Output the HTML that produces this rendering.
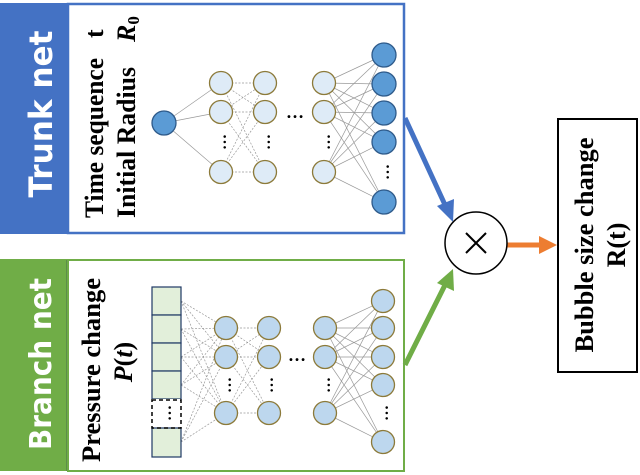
<!DOCTYPE html>
<html><head><meta charset="utf-8"><style>
html,body{margin:0;padding:0;background:#fff;width:640px;height:475px;overflow:hidden}
svg{display:block}
</style></head><body>
<svg id="s" width="640" height="475" viewBox="0 0 640 475" xmlns="http://www.w3.org/2000/svg">
<!-- Trunk -->
<rect x="0" y="3" width="69" height="231" fill="#4472c4"/>
<rect x="68" y="4" width="336" height="229" fill="#fff" stroke="#4472c4" stroke-width="2.5"/>
<text transform="translate(52,114) rotate(-90)" text-anchor="middle" textLength="167" lengthAdjust="spacingAndGlyphs" font-family="'DejaVu Sans','Liberation Sans',sans-serif" font-weight="bold" font-size="32" fill="#fff">Trunk net</text>
<text transform="translate(103,218) rotate(-90)" textLength="160" lengthAdjust="spacingAndGlyphs" font-family="'Liberation Serif',serif" font-weight="bold" font-size="26">Time sequence</text>
<text transform="translate(103,38) rotate(-90)" font-family="'Liberation Serif',serif" font-weight="bold" font-size="26">t</text>
<text transform="translate(135,218) rotate(-90)" textLength="151" lengthAdjust="spacingAndGlyphs" font-family="'Liberation Serif',serif" font-weight="bold" font-size="26">Initial Radius</text>
<text transform="translate(135,42) rotate(-90)" font-family="'Liberation Serif',serif" font-weight="bold" font-style="italic" font-size="26">R<tspan font-size="17" dy="4" font-style="normal">0</tspan></text>
<!-- Branch -->
<rect x="0" y="259" width="68" height="212" fill="#70ad47"/>
<line x1="67.5" y1="260" x2="67.5" y2="471" stroke="#1f3050" stroke-width="1.5"/>
<rect x="68" y="260" width="336" height="211" fill="#fff" stroke="#70ad47" stroke-width="2"/>
<text transform="translate(51,364) rotate(-90)" text-anchor="middle" textLength="172" lengthAdjust="spacingAndGlyphs" font-family="'DejaVu Sans','Liberation Sans',sans-serif" font-weight="bold" font-size="30" fill="#fff">Branch net</text>
<text transform="translate(100,462) rotate(-90)" textLength="184" lengthAdjust="spacingAndGlyphs" font-family="'Liberation Serif',serif" font-weight="bold" font-size="26">Pressure change</text>
<text transform="translate(132,362) rotate(-90)" text-anchor="middle" font-family="'Liberation Serif',serif" font-weight="bold" font-size="26"><tspan font-style="italic">P</tspan>(<tspan font-style="italic">t</tspan>)</text>
<g id="lines" stroke="#999" stroke-width="0.7" fill="none"></g>
<g id="nodes"></g>
<!-- input column -->
<g stroke="#1f3864" stroke-width="1.2" fill="#e2efda">
<rect x="152" y="287" width="29" height="28"/>
<rect x="152" y="315" width="29" height="28"/>
<rect x="152" y="343" width="29" height="28"/>
<rect x="152" y="371" width="29" height="28"/>
<rect x="152" y="399" width="29" height="29" fill="#fff" stroke="none"/>
<rect x="152" y="428" width="29" height="29"/>
</g>
<rect x="152" y="400" width="29" height="28" fill="none" stroke="#000" stroke-width="1.5" stroke-dasharray="4,3"/>
<!-- dots -->
<g font-family="'Liberation Serif',serif" font-weight="bold" font-size="16" text-anchor="middle">
<text transform="translate(171,413) rotate(-90)">…</text>
<text transform="translate(226,142) rotate(-90)">…</text>
<text transform="translate(270,142) rotate(-90)">…</text>
<text transform="translate(330,142) rotate(-90)">…</text>
<text transform="translate(389,172) rotate(-90)">…</text>
<text transform="translate(231,385) rotate(-90)">…</text>
<text transform="translate(273,385) rotate(-90)">…</text>
<text transform="translate(330,385) rotate(-90)">…</text>
<text transform="translate(388,413) rotate(-90)">…</text>
<text x="295" y="118" font-size="18">…</text>
<text x="297" y="361" font-size="18">…</text>
</g>
<!-- arrows -->
<line x1="405" y1="118" x2="446" y2="207" stroke="#4472c4" stroke-width="5"/>
<polygon points="453,222 437,206 454,199" fill="#4472c4"/>
<line x1="405" y1="365" x2="445" y2="285" stroke="#70ad47" stroke-width="5"/>
<polygon points="453,269 437,283 454,291" fill="#70ad47"/>
<line x1="507" y1="245" x2="540" y2="245" stroke="#ed7d31" stroke-width="5"/>
<polygon points="557,245 539,236 539,254" fill="#ed7d31"/>
<circle cx="476" cy="243" r="31" fill="#fff" stroke="#000" stroke-width="1.5"/>
<path d="M466 233 L486 253 M486 233 L466 253" stroke="#000" stroke-width="2"/>
<rect x="558" y="119" width="79" height="253" fill="#fff" stroke="#000" stroke-width="2"/>
<text transform="translate(593,245) rotate(-90)" text-anchor="middle" textLength="215" lengthAdjust="spacingAndGlyphs" font-family="'Liberation Serif',serif" font-weight="bold" font-size="26">Bubble size change</text>
<text transform="translate(625,245) rotate(-90)" text-anchor="middle" font-family="'Liberation Serif',serif" font-weight="bold" font-size="26">R(t)</text>
</svg>
<script>
var NS="http://www.w3.org/2000/svg",L=document.getElementById('lines'),N=document.getElementById('nodes');
function ln(a,b,dash){var e=document.createElementNS(NS,'line');e.setAttribute('x1',a[0]);e.setAttribute('y1',a[1]);e.setAttribute('x2',b[0]);e.setAttribute('y2',b[1]);if(dash)e.setAttribute('stroke-dasharray','2,1.5');L.appendChild(e);}
function full(A,B,d){A.forEach(function(a){B.forEach(function(b){ln(a,b,d);});});}
function col(x,ys){return ys.map(function(y){return [x,y];});}
function circ(p,r,f,s){var c=document.createElementNS(NS,'circle');c.setAttribute('cx',p[0]);c.setAttribute('cy',p[1]);c.setAttribute('r',r);c.setAttribute('fill',f);c.setAttribute('stroke',s);c.setAttribute('stroke-width','1.3');N.appendChild(c);}
var ti=[[164,123]],t1=col(221,[83,112,172]),t2=col(265,[83,112,172]),t3=col(324,[83,112,172]),to=col(384,[55,84,113,142,202]);
full(ti,t1);full(t1,t2,1);full(t3,to);
ti.forEach(function(p){circ(p,12,'#5b9bd5','#2e5a8a');});
t1.concat(t2,t3).forEach(function(p){circ(p,11.5,'#deebf7','#8c7a3a');});
to.forEach(function(p){circ(p,12,'#5b9bd5','#2e5a8a');});
var bi=col(181,[301,329,357,385,442]),b1=col(226,[328,357,413]),b2=col(269,[328,357,413]),b3=col(325,[328,357,413]),bo=col(383,[301,328,357,385,442]);
full(bi,b1,1);full(b1,b2,1);full(b3,bo);
b1.concat(b2,b3,bo).forEach(function(p){circ(p,11.5,'#bdd7ee','#8c7a3a');});
</script>
</body></html>
